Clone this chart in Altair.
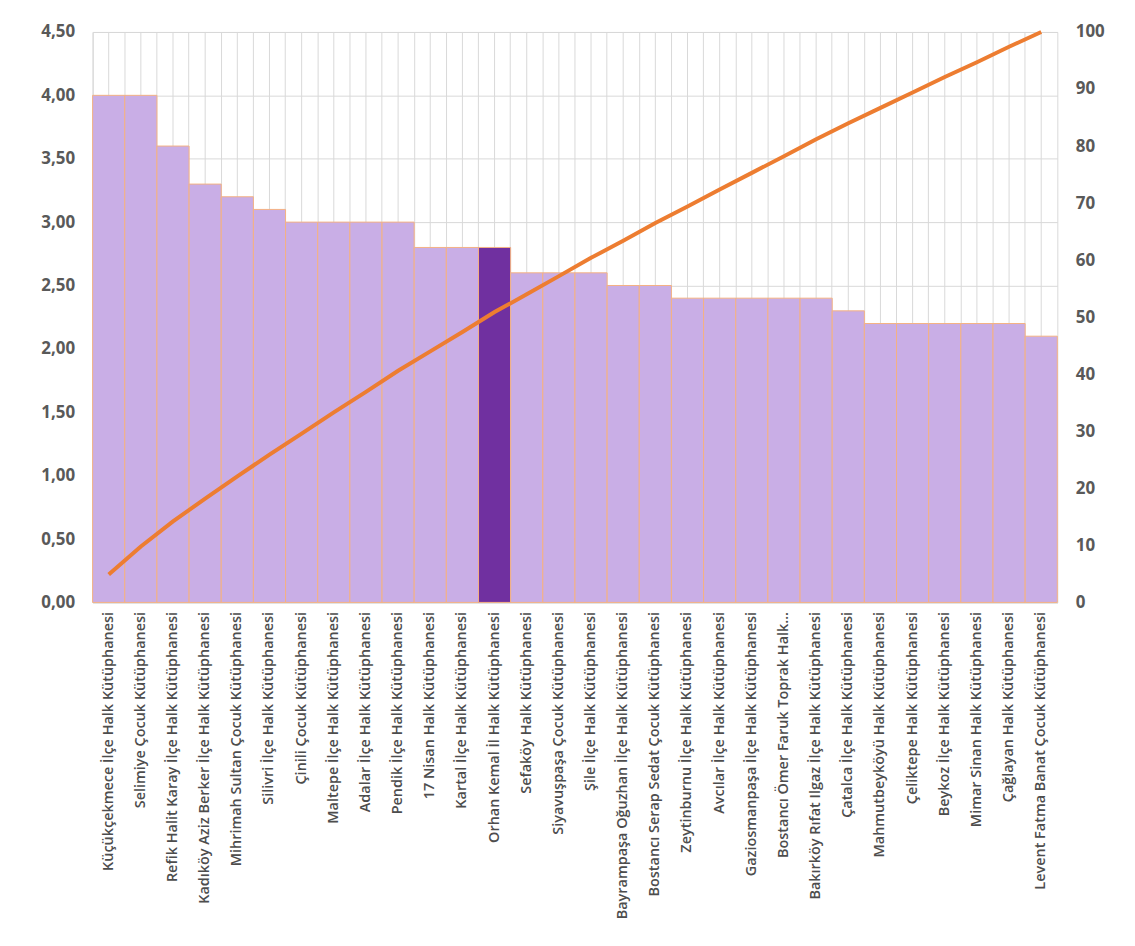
import altair as alt
import pandas as pd

names = [
    "Küçükçekmece İlçe Halk Kütüphanesi",
    "Selimiye Çocuk Kütüphanesi",
    "Refik Halit Karay İlçe Halk Kütüphanesi",
    "Kadıköy Aziz Berker İlçe Halk Kütüphanesi",
    "Mihrimah Sultan Çocuk Kütüphanesi",
    "Silivri İlçe Halk Kütüphanesi",
    "Çinili Çocuk Kütüphanesi",
    "Maltepe İlçe Halk Kütüphanesi",
    "Adalar İlçe Halk Kütüphanesi",
    "Pendik İlçe Halk Kütüphanesi",
    "17 Nisan Halk Kütüphanesi",
    "Kartal İlçe Halk Kütüphanesi",
    "Orhan Kemal İl Halk Kütüphanesi",
    "Sefaköy Halk Kütüphanesi",
    "Siyavuşpaşa Çocuk Kütüphanesi",
    "Şile İlçe Halk Kütüphanesi",
    "Bayrampaşa Oğuzhan İlçe Halk Kütüphanesi",
    "Bostancı Serap Sedat Çocuk Kütüphanesi",
    "Zeytinburnu İlçe Halk Kütüphanesi",
    "Avcılar İlçe Halk Kütüphanesi",
    "Gaziosmanpaşa İlçe Halk Kütüphanesi",
    "Bostancı Ömer Faruk Toprak Halk…",
    "Bakırköy Rıfat Ilgaz İlçe Halk Kütüphanesi",
    "Çatalca İlçe Halk Kütüphanesi",
    "Mahmutbeyköyü Halk Kütüphanesi",
    "Çeliktepe Halk Kütüphanesi",
    "Beykoz İlçe Halk Kütüphanesi",
    "Mimar Sinan Halk Kütüphanesi",
    "Çağlayan Halk Kütüphanesi",
    "Levent Fatma Banat Çocuk Kütüphanesi",
]

scores = [4.0, 4.0, 3.6, 3.3, 3.2, 3.1, 3.0, 3.0, 3.0, 3.0,
          2.8, 2.8, 2.8, 2.6, 2.6, 2.6, 2.5, 2.5, 2.4, 2.4,
          2.4, 2.4, 2.4, 2.3, 2.2, 2.2, 2.2, 2.2, 2.2, 2.1]

cum_pct = [4.9, 9.8, 14.2, 18.2, 22.1, 25.9, 29.6, 33.3, 36.9, 40.6,
           44.0, 47.4, 50.9, 54.0, 57.2, 60.4, 63.4, 66.5, 69.4, 72.4,
           75.3, 78.2, 81.2, 84.0, 86.7, 89.4, 92.1, 94.7, 97.4, 100.0]

highlight = "Orhan Kemal İl Halk Kütüphanesi"

left_ticks = [0, 0.5, 1.0, 1.5, 2.0, 2.5, 3.0, 3.5, 4.0, 4.5]
right_ticks = [0, 10, 20, 30, 40, 50, 60, 70, 80, 90, 100]

df = pd.DataFrame({"name": names, "score": scores, "cum": cum_pct})

FONT = "Open Sans"
GRID = "#D9D9D9"

x_enc = alt.X(
    "name:N",
    sort=names,
    scale=alt.Scale(paddingInner=0, paddingOuter=0),
    axis=alt.Axis(
        title=None,
        labelAngle=270,
        labelFont=FONT,
        labelFontSize=14.5,
        labelFontWeight=600,
        labelColor="#4d4d4d",
        labelLimit=400,
        labelPadding=9,
        ticks=False,
        domainColor=GRID,
        grid=True,
        gridColor=GRID,
        bandPosition=0,
    ),
)

base = alt.Chart(df)

center_rules = base.mark_rule(color=GRID, strokeWidth=1).encode(x=x_enc)

bars = base.mark_bar(stroke="#F4B183", strokeWidth=1).encode(
    x=x_enc,
    y=alt.Y(
        "score:Q",
        scale=alt.Scale(domain=[0, 4.5]),
        axis=alt.Axis(
            title=None,
            values=left_ticks,
            labelExpr="replace(format(datum.value, '.2f'), '.', ',')",
            labelFont=FONT,
            labelFontSize=17,
            labelFontWeight="bold",
            labelColor="#595959",
            labelPadding=18,
            ticks=False,
            domain=False,
            grid=True,
            gridColor=GRID,
        ),
    ),
    color=alt.condition(
        alt.datum.name == highlight,
        alt.value("#7030A0"),
        alt.value("#C9AEE6"),
    ),
)

line = base.mark_line(color="#ED7D31", strokeWidth=4).encode(
    x=x_enc,
    y=alt.Y(
        "cum:Q",
        scale=alt.Scale(domain=[0, 100]),
        axis=alt.Axis(
            title=None,
            orient="right",
            values=right_ticks,
            labelFont=FONT,
            labelFontSize=17,
            labelFontWeight="bold",
            labelColor="#595959",
            labelPadding=18,
            ticks=False,
            domain=False,
            grid=False,
        ),
    ),
)

chart = (
    alt.layer(center_rules, bars, line)
    .resolve_scale(y="independent")
    .properties(
        width=969,
        height=573,
        autosize=alt.AutoSizeParams(type="none"),
        padding={"left": 85, "top": 22, "right": 70, "bottom": 330},
    )
    .configure_view(stroke=GRID)
)

chart.save("out.html", embed_options={"renderer": "svg", "actions": False})
